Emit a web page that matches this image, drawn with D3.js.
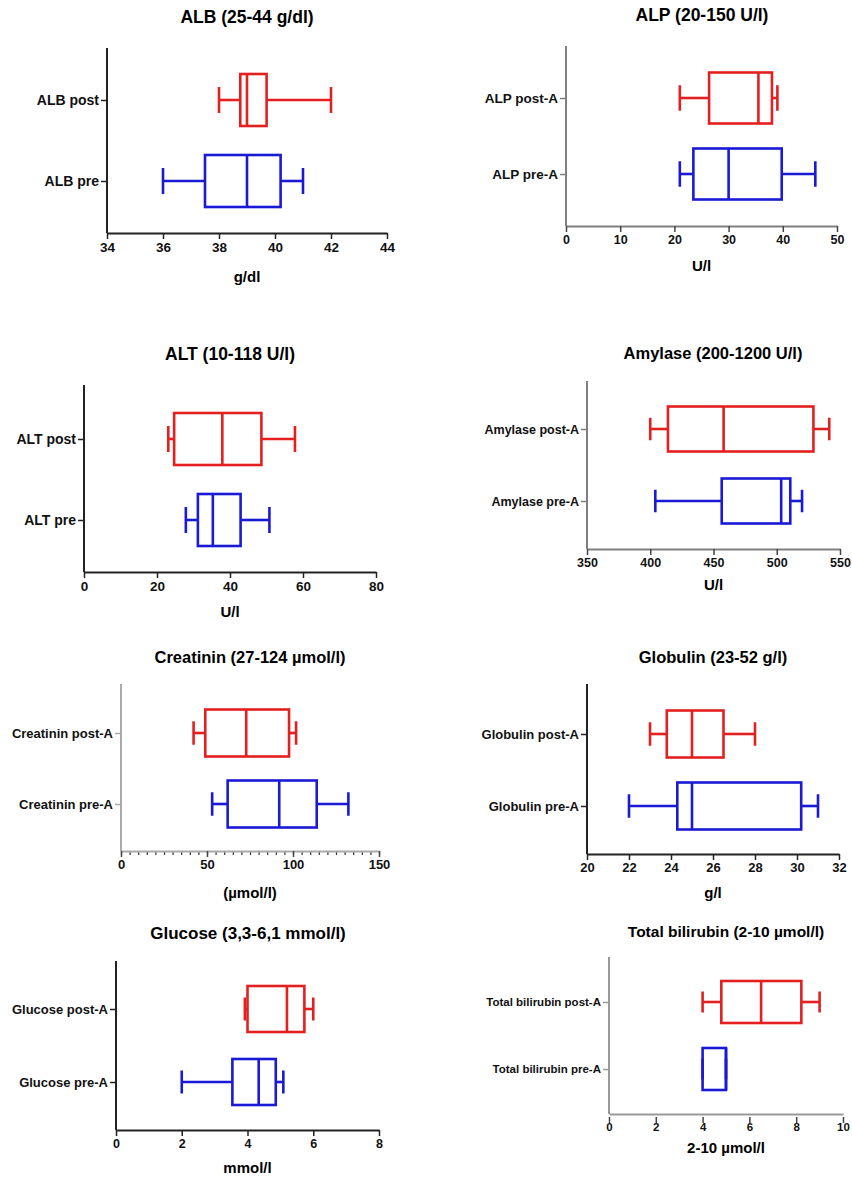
<!DOCTYPE html>
<html>
<head>
<meta charset="utf-8">
<script src="https://cdn.jsdelivr.net/npm/d3@7"></script>
<style>
  body { margin: 0; background: #fff; }
  svg { display: block; font-family: "Liberation Sans", Arial, sans-serif; font-weight: bold; }
</style>
</head>
<body>
<svg id="chart" width="852" height="1180"></svg>
<script>
const titles = [
  "ALB (25-44 g/dl)", "ALP (20-150 U/l)", "ALT (10-118 U/l)", "Amylase (200-1200 U/l)",
  "Creatinin (27-124 µmol/l)", "Globulin (23-52 g/l)", "Glucose (3,3-6,1 mmol/l)", "Total bilirubin (2-10 µmol/l)"
]
const groupLabels = [
  ["ALB post", "ALB pre"],
  ["ALP post-A", "ALP pre-A"],
  ["ALT post", "ALT pre"],
  ["Amylase post-A", "Amylase pre-A"],
  ["Creatinin post-A", "Creatinin pre-A"],
  ["Globulin post-A", "Globulin pre-A"],
  ["Glucose post-A", "Glucose pre-A"],
  ["Total bilirubin post-A", "Total bilirubin pre-A"]
]
// [min, q1, median, q3, max]
const postStats = [
  [38, 38.76, 39, 39.7, 42],
  [21, 26.4, 35.5, 38, 39],
  [23.1, 24.7, 37.9, 48.6, 57.8],
  [400, 414, 458, 529, 541.5],
  [42.2, 49, 72.8, 97.7, 101.8],
  [23, 23.8, 25, 26.5, 28],
  [3.92, 4, 5.2, 5.73, 6],
  [4, 4.8, 6.5, 8.22, 9]
]
const preStats = [
  [36, 37.5, 39, 40.2, 41],
  [21, 23.5, 30, 39.8, 46],
  [27.9, 31.2, 35.3, 42.9, 50.8],
  [404, 456.5, 503.5, 510.7, 520],
  [53, 62, 92, 113.8, 132.2],
  [22, 24.3, 25, 30.2, 31],
  [2, 3.54, 4.34, 4.86, 5.09],
  [4, 4, 5, 5, 5]
]
const xDomains = [[34, 44], [0, 50], [0, 80], [350, 550], [0, 150], [20, 32], [0, 8], [0, 10]]
const xTicks = [
  [34, 36, 38, 40, 42, 44],
  [0, 10, 20, 30, 40, 50],
  [0, 20, 40, 60, 80],
  [350, 400, 450, 500, 550],
  [0, 50, 100, 150],
  [20, 22, 24, 26, 28, 30, 32],
  [0, 2, 4, 6, 8],
  [0, 2, 4, 6, 8, 10]
]
const xLabels = ["g/dl", "U/l", "U/l", "U/l", "(µmol/l)", "g/l", "mmol/l", "2-10 µmol/l"]

// panel geometry (pixels)
const layout = [
  { x0: 107, x1: 387, top: 48, axisY: 233, postY: 100, preY: 181, boxH: 52, tx: 247, ty: 17, ly: 277, tfs: 17.5, cfs: 14, kfs: 13.5, axis: "#222" },
  { x0: 566, x1: 837, top: 46, axisY: 226, postY: 98, preY: 174, boxH: 51, tx: 702, ty: 15, ly: 266, tfs: 17.5, cfs: 13.5, kfs: 12.5, axis: "#808080" },
  { x0: 84, x1: 376, top: 385, axisY: 572, postY: 439, preY: 520, boxH: 52, tx: 230, ty: 354, ly: 612, tfs: 17.5, cfs: 14, kfs: 13.5, axis: "#222" },
  { x0: 587, x1: 840, top: 381, axisY: 549, postY: 429, preY: 501, boxH: 45, tx: 713, ty: 353, ly: 585, tfs: 16.5, cfs: 12.5, kfs: 12.5, axis: "#808080" },
  { x0: 121, x1: 379, top: 684, axisY: 851, postY: 733, preY: 804, boxH: 47, tx: 250, ty: 657, ly: 893, tfs: 16.5, cfs: 13, kfs: 13, axis: "#aaa", minor: 5 },
  { x0: 587, x1: 839, top: 684, axisY: 854, postY: 734, preY: 806, boxH: 47, tx: 713, ty: 657, ly: 893, tfs: 16.5, cfs: 13, kfs: 13, axis: "#222" },
  { x0: 116, x1: 379, top: 961, axisY: 1130, postY: 1009, preY: 1082, boxH: 46, tx: 248, ty: 933, ly: 1168, tfs: 17, cfs: 13, kfs: 12.5, axis: "#222" },
  { x0: 609, x1: 843, top: 957, axisY: 1114, postY: 1002, preY: 1069, boxH: 42, tx: 726, ty: 932, ly: 1148, tfs: 15.5, cfs: 11.5, kfs: 11.5, axis: "#999", gap: 3 }
]

const colors = ["#e41f1f", "#1a1ad6"]
const svg = d3.select("#chart")

layout.forEach((p, i) => {
  const g = svg.append("g")
  const x = d3.scaleLinear().domain(xDomains[i]).range([p.x0, p.x1])
  const y = d3.scalePoint().domain(groupLabels[i]).range([p.postY, p.preY])

  g.append("text")
    .attr("x", p.tx).attr("y", p.ty).attr("dy", "0.35em")
    .attr("text-anchor", "middle")
    .style("font-size", p.tfs + "px")
    .text(titles[i])

  // y axis
  const ya = g.append("g").attr("transform", "translate(" + p.x0 + ",0)")
    .call(d3.axisLeft(y).tickSize(6).tickSizeOuter(0).tickPadding(2))
  ya.select(".domain").remove()
  ya.selectAll("text").style("font-size", p.cfs + "px").attr("fill", "#111")
  ya.selectAll("line").attr("stroke", p.axis).attr("stroke-width", 1.5)
  g.append("line")
    .attr("x1", p.x0).attr("x2", p.x0).attr("y1", p.top).attr("y2", p.axisY)
    .attr("stroke", p.axis).attr("stroke-width", 2)

  // x axis
  if (p.minor) {
    const mi = g.append("g").attr("transform", "translate(0," + p.axisY + ")")
      .call(d3.axisBottom(x).tickValues(d3.range(xDomains[i][0], xDomains[i][1] + 1, p.minor)).tickSize(4).tickFormat(""))
    mi.select(".domain").remove()
    mi.selectAll("line").attr("stroke", "#333").attr("stroke-width", 1.2)
  }
  const xa = g.append("g").attr("transform", "translate(0," + p.axisY + ")")
    .call(d3.axisBottom(x).tickValues(xTicks[i]).tickSize(6).tickSizeOuter(0).tickPadding(3))
  xa.select(".domain").attr("stroke", p.axis).attr("stroke-width", 2)
  xa.selectAll(".tick line").attr("stroke", p.axis === "#222" ? "#222" : "#444").attr("stroke-width", 1.5)
  if (p.gap) xa.selectAll(".tick line").attr("y1", p.gap).attr("y2", p.gap + 6)
  xa.selectAll("text").style("font-size", p.kfs + "px").attr("fill", "#111")

  g.append("text")
    .attr("x", (p.x0 + p.x1) / 2).attr("y", p.ly).attr("dy", "0.35em")
    .attr("text-anchor", "middle")
    .style("font-size", "15px")
    .text(xLabels[i])

  // boxes
  const data = [postStats[i], preStats[i]]
  data.forEach((s, k) => {
    const cy = y(groupLabels[i][k])
    const h = p.boxH, cap = p.boxH * 0.5
    const bg = g.append("g").attr("stroke", colors[k]).attr("stroke-width", 2.6).attr("fill", "none")
    bg.append("line").attr("x1", x(s[0])).attr("x2", x(s[1])).attr("y1", cy).attr("y2", cy)
    bg.append("line").attr("x1", x(s[3])).attr("x2", x(s[4])).attr("y1", cy).attr("y2", cy)
    bg.append("line").attr("x1", x(s[0])).attr("x2", x(s[0])).attr("y1", cy - cap / 2).attr("y2", cy + cap / 2)
    bg.append("line").attr("x1", x(s[4])).attr("x2", x(s[4])).attr("y1", cy - cap / 2).attr("y2", cy + cap / 2)
    bg.append("rect")
      .attr("x", x(s[1])).attr("width", x(s[3]) - x(s[1]))
      .attr("y", cy - h / 2).attr("height", h)
    bg.append("line").attr("x1", x(s[2])).attr("x2", x(s[2])).attr("y1", cy - h / 2).attr("y2", cy + h / 2)
  })
})
</script>
</body>
</html>
